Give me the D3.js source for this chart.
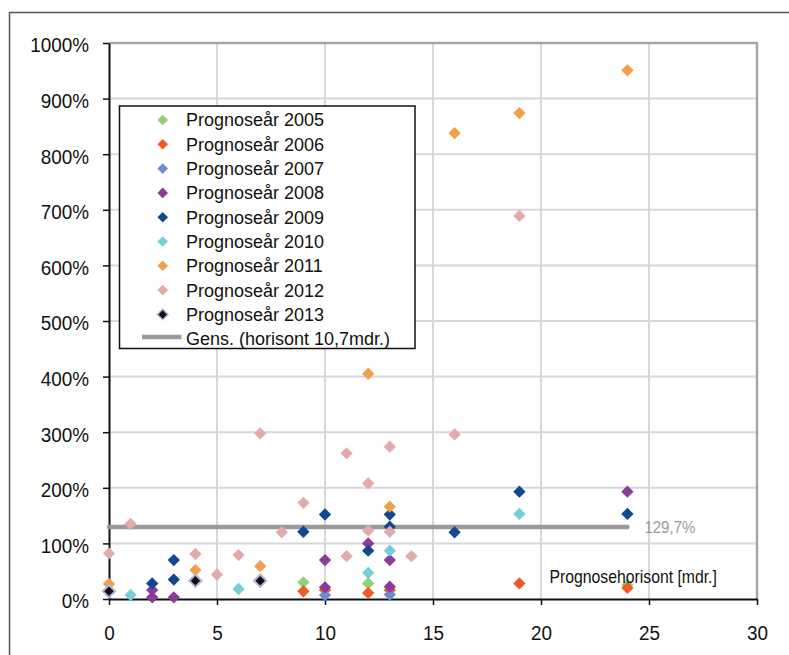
<!DOCTYPE html>
<html>
<head>
<meta charset="utf-8">
<script src="https://cdn.jsdelivr.net/npm/d3@7"></script>
<style>
  body { margin: 0; background: #fff; }
  svg { display: block; font-family: "Liberation Sans", Arial, sans-serif; }
</style>
</head>
<body>
<svg id="chart" width="789" height="655"></svg>
<script>
// Forecast deviation (%) by forecast horizon (months), one array per forecast year
const seriesNames = [
  "Prognoseår 2005", "Prognoseår 2006", "Prognoseår 2007", "Prognoseår 2008",
  "Prognoseår 2009", "Prognoseår 2010", "Prognoseår 2011", "Prognoseår 2012",
  "Prognoseår 2013"
];
const seriesColors = [
  "#92d07e", "#f15a24", "#6a8ecf", "#8b3c96",
  "#12488f", "#74cfd8", "#f0a04b", "#e2aaaa", "#111111"
];
const s2005 = [[9, 30], [12, 28], [24, 25]];
const s2006 = [[9, 14], [10, 16], [12, 11], [13, 16], [19, 28], [24, 20]];
const s2007 = [[10, 7], [13, 8]];
const s2008 = [[2, 16], [2, 3], [3, 3], [10, 70], [10, 21], [12, 100], [13, 70], [13, 22], [24, 193]];
const s2009 = [[2, 28], [3, 35], [3, 70], [9, 121], [10, 152], [12, 87], [13, 152], [13, 130], [16, 120], [19, 193], [24, 153]];
const s2010 = [[1, 7], [6, 18], [12, 47], [13, 87], [19, 153]];
const s2011 = [[0, 27], [4, 52], [7, 59], [12, 405], [13, 166], [16, 838], [19, 874], [24, 951]];
const s2012 = [[0, 82], [1, 135], [4, 81], [5, 44], [6, 79], [7, 298], [8, 120], [9, 173], [11, 262], [11, 77], [12, 208], [12, 123], [13, 274], [13, 121], [14, 77], [16, 296], [19, 689]];
const s2013 = [[0, 14], [4, 33], [7, 33]];
const seriesData = [s2005, s2006, s2007, s2008, s2009, s2010, s2011, s2012, s2013];

// Average deviation over all forecasts
const avgValue = 129.7;
const avgLine = [[0, avgValue], [24, avgValue]];
const avgLabel = "129,7%";
const avgLegend = "Gens. (horisont 10,7mdr.)";
const xTitle = "Prognosehorisont [mdr.]";

const xTicks = [0, 5, 10, 15, 20, 25, 30];
const yTicks = [0, 100, 200, 300, 400, 500, 600, 700, 800, 900, 1000];

const svg = d3.select("#chart");
const x = d3.scaleLinear().domain([0, 30]).range([109, 757]);
const y = d3.scaleLinear().domain([0, 1000]).range([599, 43]);

// Outer chart frame
svg.append("rect")
  .attr("x", 9.5).attr("y", 12.5).attr("width", 820).attr("height", 700)
  .attr("fill", "#fff").attr("stroke", "#555").attr("stroke-width", 1.5);

// Gridlines
const grid = svg.append("g");
grid.selectAll("line.v").data(xTicks.slice(1, -1)).join("line")
  .attr("x1", d => x(d)).attr("x2", d => x(d))
  .attr("y1", y(0)).attr("y2", y(1000))
  .attr("stroke", "#d6d6dd").attr("stroke-width", 2);
grid.selectAll("line.h").data(yTicks.slice(1, -1)).join("line")
  .attr("x1", x(0)).attr("x2", x(30))
  .attr("y1", d => y(d)).attr("y2", d => y(d))
  .attr("stroke", "#d6d6dd").attr("stroke-width", 2);

// Plot area border (top and right)
svg.append("path")
  .attr("d", `M${x(0)},${y(1000)}H${x(30)}V${y(0)}`)
  .attr("fill", "none").attr("stroke", "#a6a6a8").attr("stroke-width", 2.5);

// Axes
const condense = 0.9;
const yAxis = svg.append("g")
  .attr("transform", `translate(${x(0)},0)`)
  .call(d3.axisLeft(y).tickValues(yTicks).tickFormat(d => d + "%")
    .tickSize(6).tickSizeOuter(0).tickPadding(14));
yAxis.selectAll("text")
  .attr("font-size", 21).attr("fill", "#111")
  .attr("font-family", "'Liberation Sans', Arial, sans-serif")
  .attr("dy", "0.42em")
  .attr("x", -20 / condense)
  .attr("transform", `scale(${condense},1)`);

const xAxis = svg.append("g")
  .attr("transform", `translate(0,${y(0)})`)
  .call(d3.axisBottom(x).tickValues(xTicks).tickFormat(d3.format("d"))
    .tickSize(6).tickSizeOuter(0).tickPadding(20));
xAxis.selectAll(".tick text")
  .attr("font-size", 21).attr("fill", "#111")
  .attr("font-family", "'Liberation Sans', Arial, sans-serif")
  .attr("transform", `scale(${condense},1)`);
[yAxis, xAxis].forEach(a => {
  a.select(".domain").attr("stroke", "#111").attr("stroke-width", 2);
  a.selectAll(".tick line").attr("stroke", "#111").attr("stroke-width", 1.5);
});

// Average line
svg.append("path")
  .datum(avgLine)
  .attr("d", d3.line().x(d => x(d[0])).y(d => y(d[1])))
  .attr("fill", "none").attr("stroke", "#9a9a9c")
  .attr("stroke-width", 4.5).attr("stroke-linecap", "round");

svg.append("text")
  .attr("transform", `translate(${x(24) + 17},${y(avgValue) + 6}) scale(0.94,1)`)
  .attr("font-size", 16).attr("fill", "#9a9a9c")
  .text(avgLabel);

// Data markers
const marker = d3.symbol().type(d3.symbolSquare).size(76);
seriesData.forEach((data, i) => {
  svg.append("g").selectAll("path").data(data).join("path")
    .attr("d", marker)
    .attr("transform", d => `translate(${x(d[0])},${y(d[1])}) rotate(45)`)
    .attr("fill", seriesColors[i])
    .attr("stroke", i === 8 ? "#b9b2da" : "none")
    .attr("stroke-width", i === 8 ? 2 : 0);
});

// Axis title inside the plot
svg.append("text")
  .attr("transform", `translate(549.5,583) scale(0.877,1)`)
  .attr("font-size", 18).attr("fill", "#111")
  .text(xTitle);

// Legend
const legend = svg.append("g");
legend.append("rect")
  .attr("x", 119.5).attr("y", 106).attr("width", 295.5).attr("height", 242.5)
  .attr("fill", "#fff").attr("stroke", "#111").attr("stroke-width", 1.5);
const legMarker = d3.symbol().type(d3.symbolSquare).size(56);
const rowY = i => 120 + i * 24.3;
seriesNames.forEach((name, i) => {
  legend.append("path")
    .attr("d", legMarker)
    .attr("transform", `translate(162.7,${rowY(i)}) rotate(45)`)
    .attr("fill", seriesColors[i])
    .attr("stroke", i === 8 ? "#b9b2da" : "none")
    .attr("stroke-width", i === 8 ? 1.5 : 0);
  legend.append("text")
    .attr("x", 186).attr("y", rowY(i) + 6.4)
    .attr("font-size", 18).attr("fill", "#111")
    .text(name);
});
legend.append("line")
  .attr("x1", 142).attr("x2", 181.5)
  .attr("y1", 337).attr("y2", 337)
  .attr("stroke", "#9a9a9c").attr("stroke-width", 4.5);
legend.append("text")
  .attr("x", 186).attr("y", 338.3 + 6.4)
  .attr("font-size", 18).attr("fill", "#111")
  .text(avgLegend);
</script>
</body>
</html>
